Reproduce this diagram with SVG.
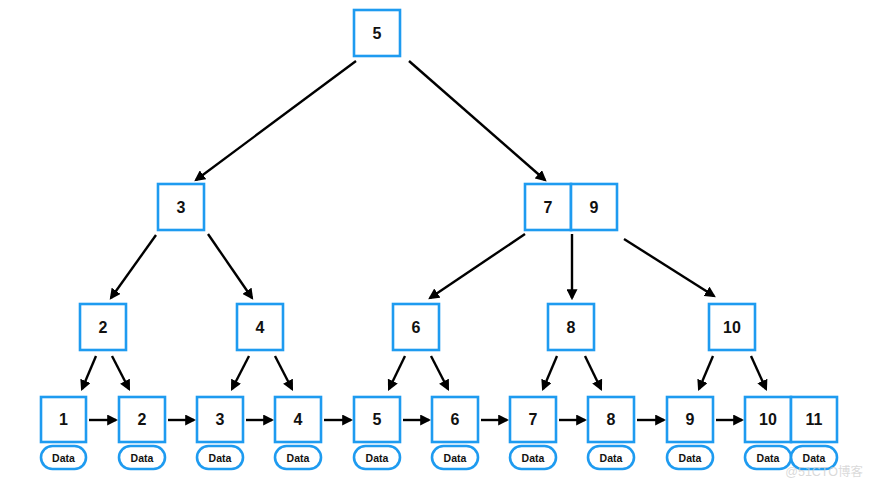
<svg xmlns="http://www.w3.org/2000/svg" width="872" height="484" viewBox="0 0 872 484">
<style>
.box{fill:#fff;stroke:#1e9bf0;stroke-width:2.6}
.pill{fill:#fff;stroke:#1e9bf0;stroke-width:2.6}
.t{font-family:"Liberation Sans",Arial,sans-serif;font-weight:bold;font-size:16px;fill:#111;text-anchor:middle;dominant-baseline:central}
.d{font-family:"Liberation Sans",Arial,sans-serif;font-weight:bold;font-size:10.5px;fill:#111;text-anchor:middle;dominant-baseline:central}
.e{stroke:#000;stroke-width:2.4;fill:none;marker-end:url(#ah)}
</style>
<defs>
<marker id="ah" viewBox="0 0 10 10" markerUnits="userSpaceOnUse" markerWidth="11" markerHeight="11" refX="8" refY="5" orient="auto">
<path d="M0,0 L10,5 L0,10 z" fill="#000"/>
</marker>
</defs>
<rect width="872" height="484" fill="#fff"/>
<g id="connectors">
<line class="e" x1="356" y1="61" x2="196" y2="180"/>
<line class="e" x1="409" y1="61" x2="545" y2="180"/>
<line class="e" x1="156" y1="235" x2="111" y2="298"/>
<line class="e" x1="208" y1="234" x2="252" y2="298"/>
<line class="e" x1="525" y1="234" x2="430" y2="298"/>
<line class="e" x1="572" y1="234" x2="572" y2="298"/>
<line class="e" x1="624" y1="239" x2="714" y2="296"/>
<line class="e" x1="96" y1="356" x2="82" y2="389"/>
<line class="e" x1="112" y1="356" x2="129" y2="389"/>
<line class="e" x1="249" y1="356" x2="232" y2="389"/>
<line class="e" x1="275" y1="356" x2="292" y2="389"/>
<line class="e" x1="405" y1="356" x2="389" y2="389"/>
<line class="e" x1="431" y1="356" x2="448" y2="389"/>
<line class="e" x1="557" y1="356" x2="543" y2="389"/>
<line class="e" x1="585" y1="356" x2="601" y2="389"/>
<line class="e" x1="713" y1="356" x2="699" y2="389"/>
<line class="e" x1="751" y1="356" x2="766" y2="389"/>
<line class="e" x1="89" y1="420" x2="116" y2="420"/>
<line class="e" x1="168" y1="420" x2="194" y2="420"/>
<line class="e" x1="246" y1="420" x2="272" y2="420"/>
<line class="e" x1="324" y1="420" x2="351" y2="420"/>
<line class="e" x1="403" y1="420" x2="429" y2="420"/>
<line class="e" x1="481" y1="420" x2="507" y2="420"/>
<line class="e" x1="559" y1="420" x2="585" y2="420"/>
<line class="e" x1="637" y1="420" x2="664" y2="420"/>
<line class="e" x1="716" y1="420" x2="742" y2="420"/>
</g>
<g id="root5"><rect class="box" x="354" y="10" width="46" height="46"/><text class="t" x="377" y="33">5</text></g>
<g id="n3"><rect class="box" x="158" y="184" width="46" height="46"/><text class="t" x="181" y="207">3</text></g>
<g id="n79"><rect class="box" x="525" y="184" width="46" height="46"/><rect class="box" x="571" y="184" width="46" height="46"/><text class="t" x="548" y="207">7</text><text class="t" x="594" y="207">9</text></g>
<g id="n2"><rect class="box" x="80" y="304" width="46" height="46"/><text class="t" x="103" y="327">2</text></g>
<g id="n4"><rect class="box" x="237" y="304" width="46" height="46"/><text class="t" x="260" y="327">4</text></g>
<g id="n6"><rect class="box" x="393" y="304" width="46" height="46"/><text class="t" x="416" y="327">6</text></g>
<g id="n8"><rect class="box" x="548" y="304" width="46" height="46"/><text class="t" x="571" y="327">8</text></g>
<g id="n10"><rect class="box" x="709" y="304" width="46" height="46"/><text class="t" x="732" y="327">10</text></g>
<g id="leaf1"><rect class="box" x="41" y="397" width="45" height="45"/><text class="t" x="63.5" y="419.5">1</text><rect class="pill" x="41" y="446" width="45" height="23" rx="11.5"/><text class="d" x="63.5" y="457.5">Data</text></g>
<g id="leaf2"><rect class="box" x="119" y="397" width="46" height="45"/><text class="t" x="142" y="419.5">2</text><rect class="pill" x="119" y="446" width="46" height="23" rx="11.5"/><text class="d" x="142" y="457.5">Data</text></g>
<g id="leaf3"><rect class="box" x="197" y="397" width="46" height="45"/><text class="t" x="220" y="419.5">3</text><rect class="pill" x="197" y="446" width="46" height="23" rx="11.5"/><text class="d" x="220" y="457.5">Data</text></g>
<g id="leaf4"><rect class="box" x="275" y="397" width="46" height="45"/><text class="t" x="298" y="419.5">4</text><rect class="pill" x="275" y="446" width="46" height="23" rx="11.5"/><text class="d" x="298" y="457.5">Data</text></g>
<g id="leaf5"><rect class="box" x="354" y="397" width="46" height="45"/><text class="t" x="377" y="419.5">5</text><rect class="pill" x="354" y="446" width="46" height="23" rx="11.5"/><text class="d" x="377" y="457.5">Data</text></g>
<g id="leaf6"><rect class="box" x="432" y="397" width="46" height="45"/><text class="t" x="455" y="419.5">6</text><rect class="pill" x="432" y="446" width="46" height="23" rx="11.5"/><text class="d" x="455" y="457.5">Data</text></g>
<g id="leaf7"><rect class="box" x="510" y="397" width="46" height="45"/><text class="t" x="533" y="419.5">7</text><rect class="pill" x="510" y="446" width="46" height="23" rx="11.5"/><text class="d" x="533" y="457.5">Data</text></g>
<g id="leaf8"><rect class="box" x="588" y="397" width="46" height="45"/><text class="t" x="611" y="419.5">8</text><rect class="pill" x="588" y="446" width="46" height="23" rx="11.5"/><text class="d" x="611" y="457.5">Data</text></g>
<g id="leaf9"><rect class="box" x="667" y="397" width="46" height="45"/><text class="t" x="690" y="419.5">9</text><rect class="pill" x="667" y="446" width="46" height="23" rx="11.5"/><text class="d" x="690" y="457.5">Data</text></g>
<g id="leaf10_11"><rect class="box" x="745" y="397" width="46" height="45"/><rect class="box" x="791" y="397" width="46" height="45"/><text class="t" x="768" y="419.5">10</text><text class="t" x="814" y="419.5">11</text><rect class="pill" x="745" y="446" width="46" height="23" rx="11.5"/><rect class="pill" x="791" y="446" width="46" height="23" rx="11.5"/><text class="d" x="768" y="457.5">Data</text><text class="d" x="814" y="457.5">Data</text></g>
<text x="863" y="476" text-anchor="end" font-family="'Liberation Sans','Noto Sans CJK SC',sans-serif" font-size="12.5" fill="#d0d0d0" fill-opacity="0.8">@51CTO博客</text>
</svg>
